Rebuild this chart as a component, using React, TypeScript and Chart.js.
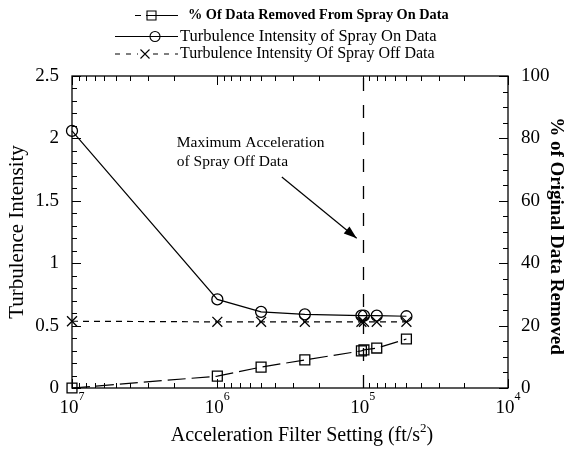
import React, { useEffect, useRef } from "react";
import { Chart, registerables } from "chart.js";

Chart.register(...registerables);

// ---- data ----
const accel = [1e7, 1e6, 5e5, 2.5e5, 1.02e5, 0.98e5, 8e4, 5e4];
const pctRemoved = [0, 3.8, 6.7, 9.0, 11.9, 12.2, 12.8, 15.7];
const tiSprayOn = [2.06, 0.71, 0.61, 0.59, 0.58, 0.58, 0.58, 0.575];
const tiSprayOff = [0.535, 0.53, 0.53, 0.53, 0.53, 0.53, 0.53, 0.53];
const seriesLabels = [
  "% Of Data Removed From Spray On Data",
  "Turbulence Intensity of Spray On Data",
  "Turbulence Intensity Of Spray Off Data",
];
const xDecadeExponents = [7, 6, 5, 4];
const maxAccelSprayOff = 1e5;
const annotationLines = ["Maximum Acceleration", "of Spray Off Data"];
const xTitle = ["Acceleration Filter Setting (ft/s", "2", ")"];
const yTitle = "Turbulence Intensity";
const y2Title = "% of Original Data Removed";

const FONT = "'Liberation Serif', 'Times New Roman', serif";

function drawMarker(ctx: CanvasRenderingContext2D, style: string, x: number, y: number, r: number) {
  ctx.beginPath();
  if (style === "rect") {
    ctx.rect(x - r, y - r, 2 * r, 2 * r);
  } else if (style === "circle") {
    ctx.arc(x, y, r, 0, Math.PI * 2);
  } else {
    ctx.moveTo(x - r, y - r);
    ctx.lineTo(x + r, y + r);
    ctx.moveTo(x + r, y - r);
    ctx.lineTo(x - r, y + r);
  }
  ctx.stroke();
}

const decor = {
  id: "decor",
  beforeDatasetsDraw(chart: any) {
    const { ctx, chartArea: a, scales } = chart;
    const xs = scales.x, ys = scales.y, y2s = scales.y2;
    ctx.save();
    ctx.strokeStyle = "#000";
    ctx.lineWidth = 1.3;
    ctx.strokeRect(a.left, a.top, a.right - a.left, a.bottom - a.top);
    ctx.lineWidth = 1;
    ctx.beginPath();
    // x ticks (bottom & top), inward
    for (let e = 4; e <= 7; e++) {
      for (let m = 1; m < 10; m++) {
        if (e === 7 && m > 1) break;
        const v = m * Math.pow(10, e);
        const px = Math.round(xs.getPixelForValue(v)) + 0.5;
        const len = m === 1 ? 9 : 5;
        ctx.moveTo(px, a.bottom);
        ctx.lineTo(px, a.bottom - len);
        ctx.moveTo(px, a.top);
        ctx.lineTo(px, a.top + len);
      }
    }
    // left ticks every 0.1
    for (let i = 0; i <= 25; i++) {
      const v = i / 10;
      const py = Math.round(ys.getPixelForValue(v)) + 0.5;
      const len = i % 5 === 0 ? 9 : 5;
      ctx.moveTo(a.left, py);
      ctx.lineTo(a.left + len, py);
    }
    // right ticks every 5
    for (let i = 0; i <= 100; i += 5) {
      const py = Math.round(y2s.getPixelForValue(i)) + 0.5;
      const len = i % 20 === 0 ? 9 : 5;
      ctx.moveTo(a.right, py);
      ctx.lineTo(a.right - len, py);
    }
    ctx.stroke();
    // vertical dashed line at max acceleration of spray off data
    const vx = Math.round(xs.getPixelForValue(maxAccelSprayOff)) + 0.5;
    ctx.setLineDash([13, 14]);
    ctx.lineWidth = 1.3;
    ctx.beginPath();
    ctx.moveTo(vx, a.top + 2);
    ctx.lineTo(vx, a.bottom);
    ctx.stroke();
    ctx.restore();
  },
  afterDraw(chart: any) {
    const { ctx, chartArea: a, scales } = chart;
    const xs = scales.x, ys = scales.y;
    ctx.save();
    ctx.fillStyle = "#000";
    ctx.strokeStyle = "#000";

    // x tick labels 10^n
    ctx.textBaseline = "alphabetic";
    ctx.textAlign = "left";
    for (const e of xDecadeExponents) {
      const px = xs.getPixelForValue(Math.pow(10, e));
      ctx.font = `19px ${FONT}`;
      const w1 = ctx.measureText("10").width;
      ctx.font = `12px ${FONT}`;
      const w2 = ctx.measureText(String(e)).width;
      const x0 = px - (w1 + w2) / 2;
      ctx.font = `19px ${FONT}`;
      ctx.fillText("10", x0, a.bottom + 25);
      ctx.font = `12px ${FONT}`;
      ctx.fillText(String(e), x0 + w1, a.bottom + 12);
    }

    // x title with superscript
    ctx.font = `20px ${FONT}`;
    const t1 = ctx.measureText(xTitle[0]).width;
    const t3 = ctx.measureText(xTitle[2]).width;
    ctx.font = `13px ${FONT}`;
    const t2 = ctx.measureText(xTitle[1]).width;
    const tx0 = (a.left + a.right) / 2 + 12 - (t1 + t2 + t3) / 2;
    ctx.font = `20px ${FONT}`;
    ctx.fillText(xTitle[0], tx0, a.bottom + 53);
    ctx.fillText(xTitle[2], tx0 + t1 + t2, a.bottom + 53);
    ctx.font = `13px ${FONT}`;
    ctx.fillText(xTitle[1], tx0 + t1, a.bottom + 44);

    // y titles
    ctx.textAlign = "center";
    ctx.textBaseline = "middle";
    ctx.save();
    ctx.translate(17, (a.top + a.bottom) / 2);
    ctx.rotate(-Math.PI / 2);
    ctx.font = `21px ${FONT}`;
    ctx.fillText(yTitle, 0, 0);
    ctx.restore();
    ctx.save();
    ctx.translate(556, (a.top + a.bottom) / 2 + 4);
    ctx.rotate(Math.PI / 2);
    ctx.font = `bold 19px ${FONT}`;
    ctx.fillText(y2Title, 0, 0);
    ctx.restore();

    // annotation text
    ctx.textAlign = "left";
    ctx.font = `15.5px ${FONT}`;
    const ax = xs.getPixelForValue(1.9e6);
    const ay = ys.getPixelForValue(1.96);
    ctx.fillText(annotationLines[0], ax, ay);
    ctx.fillText(annotationLines[1], ax, ay + 19);

    // arrow
    const sx = xs.getPixelForValue(3.6e5), sy = ys.getPixelForValue(1.69);
    const ex = xs.getPixelForValue(maxAccelSprayOff) - 6, ey = ys.getPixelForValue(1.2);
    ctx.lineWidth = 1.2;
    ctx.beginPath();
    ctx.moveTo(sx, sy);
    ctx.lineTo(ex, ey);
    ctx.stroke();
    const ang = Math.atan2(ey - sy, ex - sx);
    const hl = 13, hw = 4.5;
    ctx.beginPath();
    ctx.moveTo(ex, ey);
    ctx.lineTo(ex - hl * Math.cos(ang) + hw * Math.sin(ang), ey - hl * Math.sin(ang) - hw * Math.cos(ang));
    ctx.lineTo(ex - hl * Math.cos(ang) - hw * Math.sin(ang), ey - hl * Math.sin(ang) + hw * Math.cos(ang));
    ctx.closePath();
    ctx.fill();

    // legend
    ctx.lineWidth = 1.1;
    ctx.textBaseline = "middle";
    // row 1
    let y = 15.5;
    ctx.beginPath();
    ctx.moveTo(135, y); ctx.lineTo(141, y);
    ctx.moveTo(146, y); ctx.lineTo(178, y);
    ctx.stroke();
    drawMarker(ctx, "rect", 151.5, y, 4.5);
    ctx.font = `bold 14.3px ${FONT}`;
    ctx.fillText(chart.data.datasets[0].label, 188, y);
    // row 2
    y = 36.5;
    ctx.beginPath();
    ctx.moveTo(115, y); ctx.lineTo(178, y);
    ctx.stroke();
    drawMarker(ctx, "circle", 155, y, 5);
    ctx.font = `16.5px ${FONT}`;
    ctx.fillText(chart.data.datasets[1].label, 180, y);
    // row 3
    y = 54;
    ctx.beginPath();
    ctx.setLineDash([5, 6]);
    ctx.moveTo(115, y); ctx.lineTo(138, y);
    ctx.moveTo(153, y); ctx.lineTo(178, y);
    ctx.stroke();
    ctx.setLineDash([]);
    drawMarker(ctx, "cross", 145, y, 4.5);
    ctx.font = `16px ${FONT}`;
    ctx.fillText(chart.data.datasets[2].label, 180, y);

    ctx.restore();
  },
};

export default function App() {
  const ref = useRef<HTMLCanvasElement>(null);
  useEffect(() => {
    const common = {
      borderColor: "#000",
      borderWidth: 1.2,
      pointBorderColor: "#000",
      pointBackgroundColor: "rgba(0,0,0,0)",
      pointBorderWidth: 1.3,
      clip: false as any,
      tension: 0,
    };
    const chart = new Chart(ref.current!, {
      type: "line",
      data: {
        datasets: [
          {
            ...common,
            label: seriesLabels[0],
            data: accel.map((x, i) => ({ x, y: pctRemoved[i] })),
            yAxisID: "y2",
            borderDash: [18, 6],
            pointStyle: "rect",
            pointRadius: 7,
          },
          {
            ...common,
            label: seriesLabels[1],
            data: accel.map((x, i) => ({ x, y: tiSprayOn[i] })),
            yAxisID: "y",
            pointStyle: "circle",
            pointRadius: 5.5,
          },
          {
            ...common,
            label: seriesLabels[2],
            data: accel.map((x, i) => ({ x, y: tiSprayOff[i] })),
            yAxisID: "y",
            borderDash: [6, 5],
            pointStyle: "crossRot",
            pointRadius: 7,
          },
        ],
      },
      options: {
        animation: false,
        responsive: false,
        devicePixelRatio: 1,
        layout: { padding: { top: 76, left: 0, right: 0, bottom: 0 } },
        plugins: { legend: { display: false }, tooltip: { enabled: false } },
        scales: {
          x: {
            type: "logarithmic",
            reverse: true,
            min: 1e4,
            max: 1e7,
            position: "bottom",
            grid: { display: false, drawTicks: false },
            border: { display: false },
            ticks: { display: false },
            afterFit: (s: any) => { s.height = 62; },
          },
          y: {
            type: "linear",
            position: "left",
            min: 0,
            max: 2.5,
            grid: { display: false, drawTicks: false },
            border: { display: false },
            ticks: {
              stepSize: 0.5,
              padding: 13,
              color: "#000",
              font: { family: FONT, size: 19 },
              callback: (v: any) => String(Math.round(Number(v) * 10) / 10),
            },
            afterFit: (s: any) => { s.width = 72; },
          },
          y2: {
            type: "linear",
            position: "right",
            min: 0,
            max: 100,
            grid: { display: false, drawTicks: false },
            border: { display: false },
            ticks: { stepSize: 20, padding: 13, color: "#000", font: { family: FONT, size: 19 } },
            afterFit: (s: any) => { s.width = 57; },
          },
        },
      } as any,
      plugins: [decor],
    });
    return () => chart.destroy();
  }, []);
  return (
    <div style={{ position: "absolute", left: 0, top: 0, width: 565, height: 450, background: "#fff" }}>
      <canvas ref={ref} width={565} height={450} style={{ display: "block" }} />
    </div>
  );
}
